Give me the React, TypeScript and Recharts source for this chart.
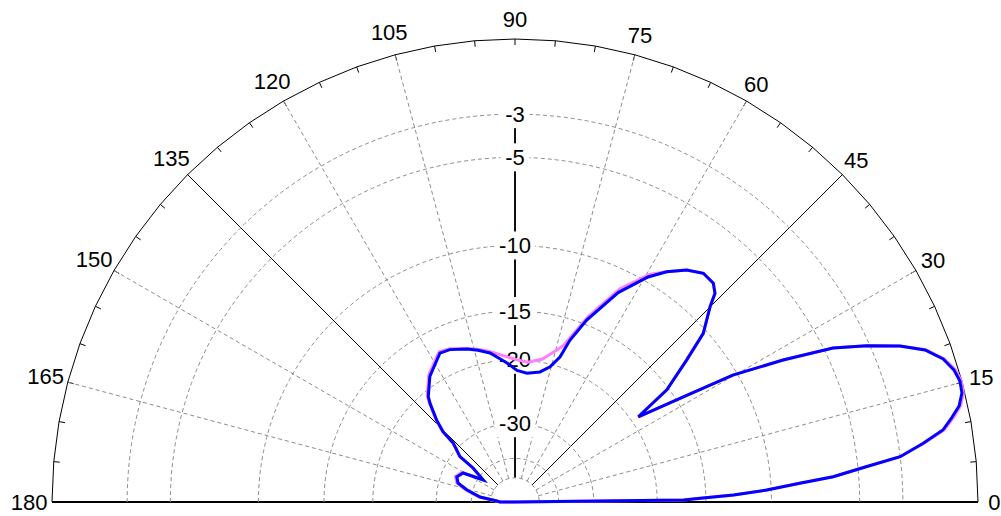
import { RadarChart, Radar, PolarGrid, PolarAngleAxis, PolarRadiusAxis } from 'recharts';

// pattern: angle (deg) and gain (dB) for both traces
const ANGLES = [
  0, 0.68, 1.15, 1.84, 2.73, 3.75, 4.54, 5.73, 6.71, 8.18, 9.55, 10.78, 12.2, 13.7, 15.21, 16.73,
  18.47, 20.34, 22.06, 23.96, 25.84, 27.92, 30.22, 32.0, 34.65, 36.44, 39.59, 41.86, 45.03, 46.22,
  47.8, 50.53, 53.5, 56.63, 59.4, 63.77, 68.5, 71.25, 72.76, 75.47, 79.11, 84.69, 89.13, 93.29,
  99.52, 103.7, 107.4, 113.16, 116.77, 118.87, 124.15, 129.47, 130.74, 133.68, 135.7, 136.4,
  140.5, 141.0, 145.2, 150.85, 156.7, 161.6, 166.0, 171.9, 176.8, 180,
];
const MEAS_DB = [
  -60, -17.1, -15.5, -12.7, -10.3, -8.2, -6.3, -4.6, -3.0, -1.96, -1.1, -0.72, -0.32, -0.11, -0.07, -0.17,
  -0.43, -0.97, -1.84, -3.13, -4.58, -7.16, -10.3, -14.4, -19.1, -15.2, -12.4, -10.25, -8.76, -7.98,
  -7.62, -7.56, -8.0, -8.78, -9.68, -11.6, -14.6, -16.9, -18.9, -20.3, -21.2, -21.6, -21.3, -20.35,
  -18.97, -18.4, -17.95, -17.4, -17.3, -17.8, -18.9, -20.7, -21.5, -23.8, -25.9, -28.7,
  -31.7, -36.5, -42.1, -34.75, -33.7, -34.6, -37.9, -43.6, -55.0, -58,
];
const SIM_DB = [
  -60, -17.1, -15.5, -12.7, -10.3, -8.2, -6.3, -4.6, -3.0, -1.93, -1.05, -0.65, -0.26, -0.06, -0.02, -0.12,
  -0.4, -0.94, -1.84, -3.13, -4.58, -7.16, -10.3, -14.4, -19.1, -15.2, -12.4, -10.25, -8.76, -7.98,
  -7.62, -7.56, -8.0, -8.78, -9.5, -11.3, -14.3, -16.5, -17.6, -18.5, -19.6, -20.2, -20.0, -19.6,
  -18.8, -18.3, -17.9, -17.3, -17.15, -17.6, -18.7, -20.5, -21.3, -23.6, -25.7, -28.5,
  -31.4, -36.1, -41.6, -34.4, -33.3, -34.2, -37.4, -43.0, -54.0, -58,
];

const RING_DB = [-3, -5, -10, -15, -20, -30, -40, -50];
const RING_LABELS = ['-3', '-5', '-10', '-15', '-20', '-30', '', ''];
const ANGLE_TICKS = [
  0, 5, 10, 15, 20, 25, 30, 35, 40, 45, 50, 55, 60, 65, 70, 75, 80, 85, 90,
  95, 100, 105, 110, 115, 120, 125, 130, 135, 140, 145, 150, 155, 160, 165, 170, 175, 180,
];
const ANGLE_LABELS = [0, 15, 30, 45, 60, 75, 90, 105, 120, 135, 150, 165, 180];
const DASHED_SPOKES = [15, 30, 60, 75, 105, 120, 150, 165];
const SOLID_SPOKES = [45, 135];
const BASE_SPOKES = [0, 180];

const W = 1001;
const H = 516;
const CX = 515;
const CY = 502;
const R = 463;
const FONT = '"Liberation Sans", Arial, sans-serif';
const GRID = '#8c8c8c';

// ring radii in the picture follow 10^(dB/39) quite closely
const toR = (db: number) => (db <= -60 ? 0 : Math.pow(10, db / 39));

const data = ANGLES.map((a, i) => ({ angle: a, sim: toR(SIM_DB[i]), meas: toR(MEAS_DB[i]) }));
const ringTicks = RING_DB.map(toR);
// spokes start at the innermost ring
const SPOKE_IN = R * toR(RING_DB[RING_DB.length - 1]);

function RadiusTick(props: any) {
  const { x, y, payload } = props;
  const i = ringTicks.findIndex((t) => Math.abs(t - payload.value) < 1e-9);
  const label = i >= 0 ? RING_LABELS[i] : '';
  const r = CY - y;
  const w = label.length * 11.5 + 6;
  return (
    <g>
      <path
        d={`M ${x - r} ${CY} A ${r} ${r} 0 0 1 ${x + r} ${CY}`}
        fill="none"
        stroke={GRID}
        strokeDasharray="4 3"
      />
      {label && <rect x={x - w / 2} y={y - 14} width={w} height={28} fill="#fff" />}
      {label && (
        <text x={x} y={y} textAnchor="middle" dominantBaseline="central" fontSize={22} fontFamily={FONT} fill="#000">
          {label}
        </text>
      )}
    </g>
  );
}

function AngleTick(props: any) {
  const a = props.payload?.value;
  const rad = (a * Math.PI) / 180;
  const cos = Math.cos(rad);
  const sin = Math.sin(rad);
  const dashed = DASHED_SPOKES.includes(a);
  const solid = SOLID_SPOKES.includes(a);
  const label = ANGLE_LABELS.includes(a) ? String(a) : '';
  const d = R + 13 + 3.3 * label.length;
  return (
    <g>
      {(dashed || solid) && (
        <line
          x1={CX + SPOKE_IN * cos}
          y1={CY - SPOKE_IN * sin}
          x2={CX + R * cos}
          y2={CY - R * sin}
          stroke={dashed ? GRID : '#000'}
          strokeDasharray={dashed ? '4 3' : undefined}
        />
      )}
      {label && (
        <text
          x={CX + d * cos}
          y={CY - d * sin}
          textAnchor="middle"
          dominantBaseline="central"
          fontSize={22}
          fontFamily={FONT}
          fill="#000"
        >
          {label}
        </text>
      )}
    </g>
  );
}

export default function App() {
  return (
    <div style={{ position: 'absolute', left: 0, top: 0, width: W, height: H, background: '#fff' }}>
      <RadarChart
        width={W}
        height={H}
        data={data}
        cx={CX}
        cy={CY}
        innerRadius={0}
        outerRadius={R}
        startAngle={0}
        endAngle={180}
        margin={{ top: 0, right: 0, bottom: 0, left: 0 }}
      >
        <PolarGrid polarRadius={[]} polarAngles={BASE_SPOKES} stroke="#000" strokeWidth={2} />
        <PolarAngleAxis
          dataKey="angle"
          type="number"
          domain={[0, 180]}
          ticks={ANGLE_TICKS}
          axisLineType="polygon"
          axisLine={{ stroke: '#000' }}
          tickLine={{ stroke: '#000' }}
          tickSize={6}
          orientation="inner"
          tick={AngleTick}
        />
        <PolarRadiusAxis
          angle={90}
          type="number"
          domain={[0, 1]}
          ticks={ringTicks}
          axisLine={{ stroke: '#111', strokeWidth: 2 }}
          tick={RadiusTick}
        />
        <Radar
          dataKey="sim"
          stroke="#ff80ff"
          strokeWidth={3}
          fill="none"
          fillOpacity={0}
          dot={false}
          isAnimationActive={false}
          zIndex={700}
        />
        <Radar
          dataKey="meas"
          stroke="#0000ff"
          strokeWidth={3}
          fill="none"
          fillOpacity={0}
          dot={false}
          isAnimationActive={false}
          zIndex={701}
        />
      </RadarChart>
    </div>
  );
}
